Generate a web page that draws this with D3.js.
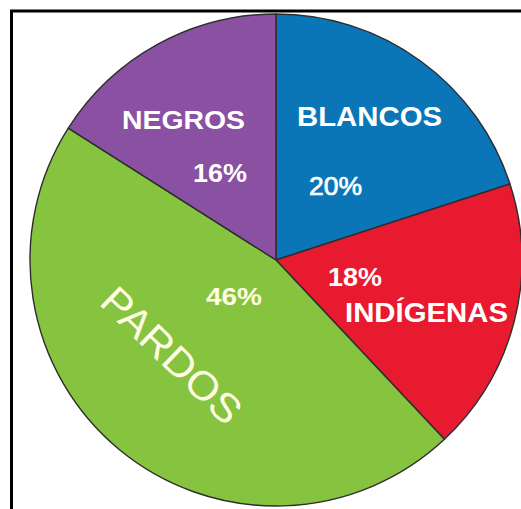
<!DOCTYPE html>
<html>
<head>
<meta charset="utf-8">
<script src="https://cdn.jsdelivr.net/npm/d3@7"></script>
<style>
html,body{margin:0;padding:0;background:#fff;overflow:hidden;}
svg{display:block;}
</style>
</head>
<body>
<svg id="chart" width="521" height="509"></svg>
<script>
const categories = ["BLANCOS", "INDÍGENAS", "PARDOS", "NEGROS"];
const values = [20, 18, 46, 16];
const percentLabels = ["20%", "18%", "46%", "16%"];
const colors = ["#0A76B7", "#E71A2F", "#86C440", "#8A50A2"];

const svg = d3.select("#chart");
const W = 521, H = 509;
svg.append("rect").attr("width", W).attr("height", H).attr("fill", "#fff");

const cx = 276, cy = 260, r = 246;
const data = categories.map((c, i) => ({name: c, value: values[i], pct: percentLabels[i], color: colors[i]}));
const pie = d3.pie().value(d => d.value).sort(null);
const arcs = pie(data);
const arc = d3.arc().innerRadius(0).outerRadius(r);

const g = svg.append("g").attr("transform", `translate(${cx},${cy})`);
g.selectAll("path").data(arcs).enter().append("path")
  .attr("d", arc)
  .attr("fill", d => d.data.color)
  .attr("stroke", "#2d2d2d")
  .attr("stroke-width", 1.4)
  .attr("stroke-linejoin", "round");

// frame
svg.append("rect").attr("x", 11.5).attr("y", 11).attr("width", 620).attr("height", 620)
  .attr("fill", "none").attr("stroke", "#000").attr("stroke-width", 3);

const font = "'Liberation Sans', Arial, sans-serif";
function label(txt, x, y, size, weight, len, fill) {
  const t = svg.append("text").attr("x", x).attr("y", y)
    .attr("font-family", font).attr("font-size", size).attr("font-weight", weight)
    .attr("fill", fill || "#fff")
    .text(txt);
  if (len) t.attr("textLength", len).attr("lengthAdjust", "spacingAndGlyphs");
  return t;
}
const byName = n => data.find(d => d.name === n);

label(byName("NEGROS").name, 122, 129, 26, "bold", 123);
label(byName("NEGROS").pct, 193, 182, 26, "bold", 54);
label(byName("BLANCOS").name, 297, 126, 27, "bold", 145);
label(byName("BLANCOS").pct, 309, 195, 25, "normal", 53)
  .attr("stroke", "#fff").attr("stroke-width", 0.7);
label(byName("INDÍGENAS").pct, 328, 286, 26, "bold", 54);
label(byName("INDÍGENAS").name, 345, 322, 27, "bold", 163);
label(byName("PARDOS").pct, 206, 305, 24, "bold", 56, "#FFFCE2");

svg.append("text")
  .attr("transform", "translate(172,355) rotate(44)")
  .attr("text-anchor", "middle").attr("dy", "0.36em")
  .attr("font-family", font).attr("font-size", 40).attr("font-weight", "normal")
  .attr("fill", "#FFFCE2")
  .attr("textLength", 178).attr("lengthAdjust", "spacingAndGlyphs")
  .text(byName("PARDOS").name);
</script>
</body>
</html>
